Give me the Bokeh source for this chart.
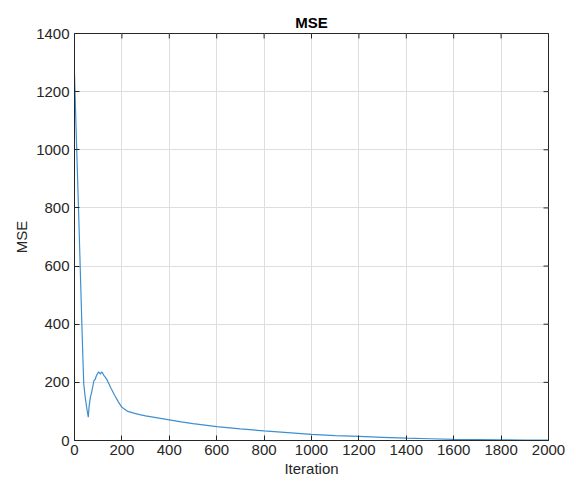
import math
from bokeh.plotting import figure
from bokeh.models import Range1d, FixedTicker
from bokeh.embed import file_html
from bokeh.resources import INLINE

iterations = [0, 9, 18, 25, 31, 36, 39, 45, 52, 58, 62, 67, 72, 77, 82, 87, 92, 97, 102, 106,
              110, 114, 118, 123, 128, 135, 145, 155, 170, 185, 200, 225, 250, 275, 300, 350,
              400, 450, 500, 600, 700, 800, 900, 1000, 1100, 1200, 1300, 1400, 1500, 1600,
              1700, 1800, 1900, 2000]
mse = [1260, 1010, 768, 570, 401, 270, 195, 150, 110, 80, 120, 149, 165, 185, 206, 210, 222, 230,
       236, 232, 228, 236, 233, 225, 220, 212, 195, 178, 155, 133, 114, 100, 94, 89, 85, 78,
       71, 64, 58, 48, 40, 33, 27, 21, 17, 14, 11, 8, 6, 4, 3, 2, 1.5, 1]

x_ticks = [0, 200, 400, 600, 800, 1000, 1200, 1400, 1600, 1800, 2000]
y_ticks = [0, 200, 400, 600, 800, 1000, 1200, 1400]

FONT = "Liberation Sans"
AX = "#262626"
X_MAX = x_ticks[-1]
Y_MAX = y_ticks[-1]

p = figure(width=576, height=488, output_backend="svg", toolbar_location=None,
           x_range=Range1d(0, X_MAX), y_range=Range1d(0, Y_MAX),
           min_border_left=74, min_border_right=28, min_border_top=33, min_border_bottom=48,
           title="MSE")
p.title.text_font = FONT
p.title.text_font_size = "15px"
p.title.text_font_style = "bold"
p.title.align = "center"
p.title.standoff = 6
p.title.text_color = "#000000"

p.line(iterations, mse, line_color="#3d8fd1", line_width=1.2)

# MATLAB-style inward ticks on top and right edges (half of each dash is clipped by the frame)
p.scatter(x=x_ticks, y=[Y_MAX] * len(x_ticks), marker="dash", size=10, angle=math.pi / 2,
          line_color=AX, line_width=1)
p.scatter(x=[X_MAX] * len(y_ticks), y=y_ticks, marker="dash", size=10,
          line_color=AX, line_width=1)

p.xaxis.ticker = FixedTicker(ticks=x_ticks)
p.yaxis.ticker = FixedTicker(ticks=y_ticks)
p.xaxis.axis_label = "Iteration"
p.yaxis.axis_label = "MSE"
for ax in (p.xaxis[0], p.yaxis[0]):
    ax.axis_line_color = AX
    ax.major_tick_line_color = AX
    ax.major_tick_in = 5
    ax.major_tick_out = 0
    ax.minor_tick_line_color = None
    ax.major_label_text_font = FONT
    ax.major_label_text_font_size = "15px"
    ax.major_label_text_color = "#262626"
    ax.axis_label_text_font = FONT
    ax.axis_label_text_font_size = "15px"
    ax.axis_label_text_font_style = "normal"
    ax.axis_label_text_color = "#262626"
p.xaxis.major_label_standoff = 4
p.xaxis.axis_label_standoff = 2
p.yaxis.major_label_standoff = 5
p.yaxis.axis_label_standoff = 3

p.xgrid.ticker = FixedTicker(ticks=x_ticks)
p.ygrid.ticker = FixedTicker(ticks=y_ticks)
p.grid.grid_line_color = "#dedede"
p.grid.grid_line_width = 1
p.outline_line_color = AX
p.background_fill_color = "white"
p.border_fill_color = "white"

open("out.html", "w").write(file_html(p, INLINE))
